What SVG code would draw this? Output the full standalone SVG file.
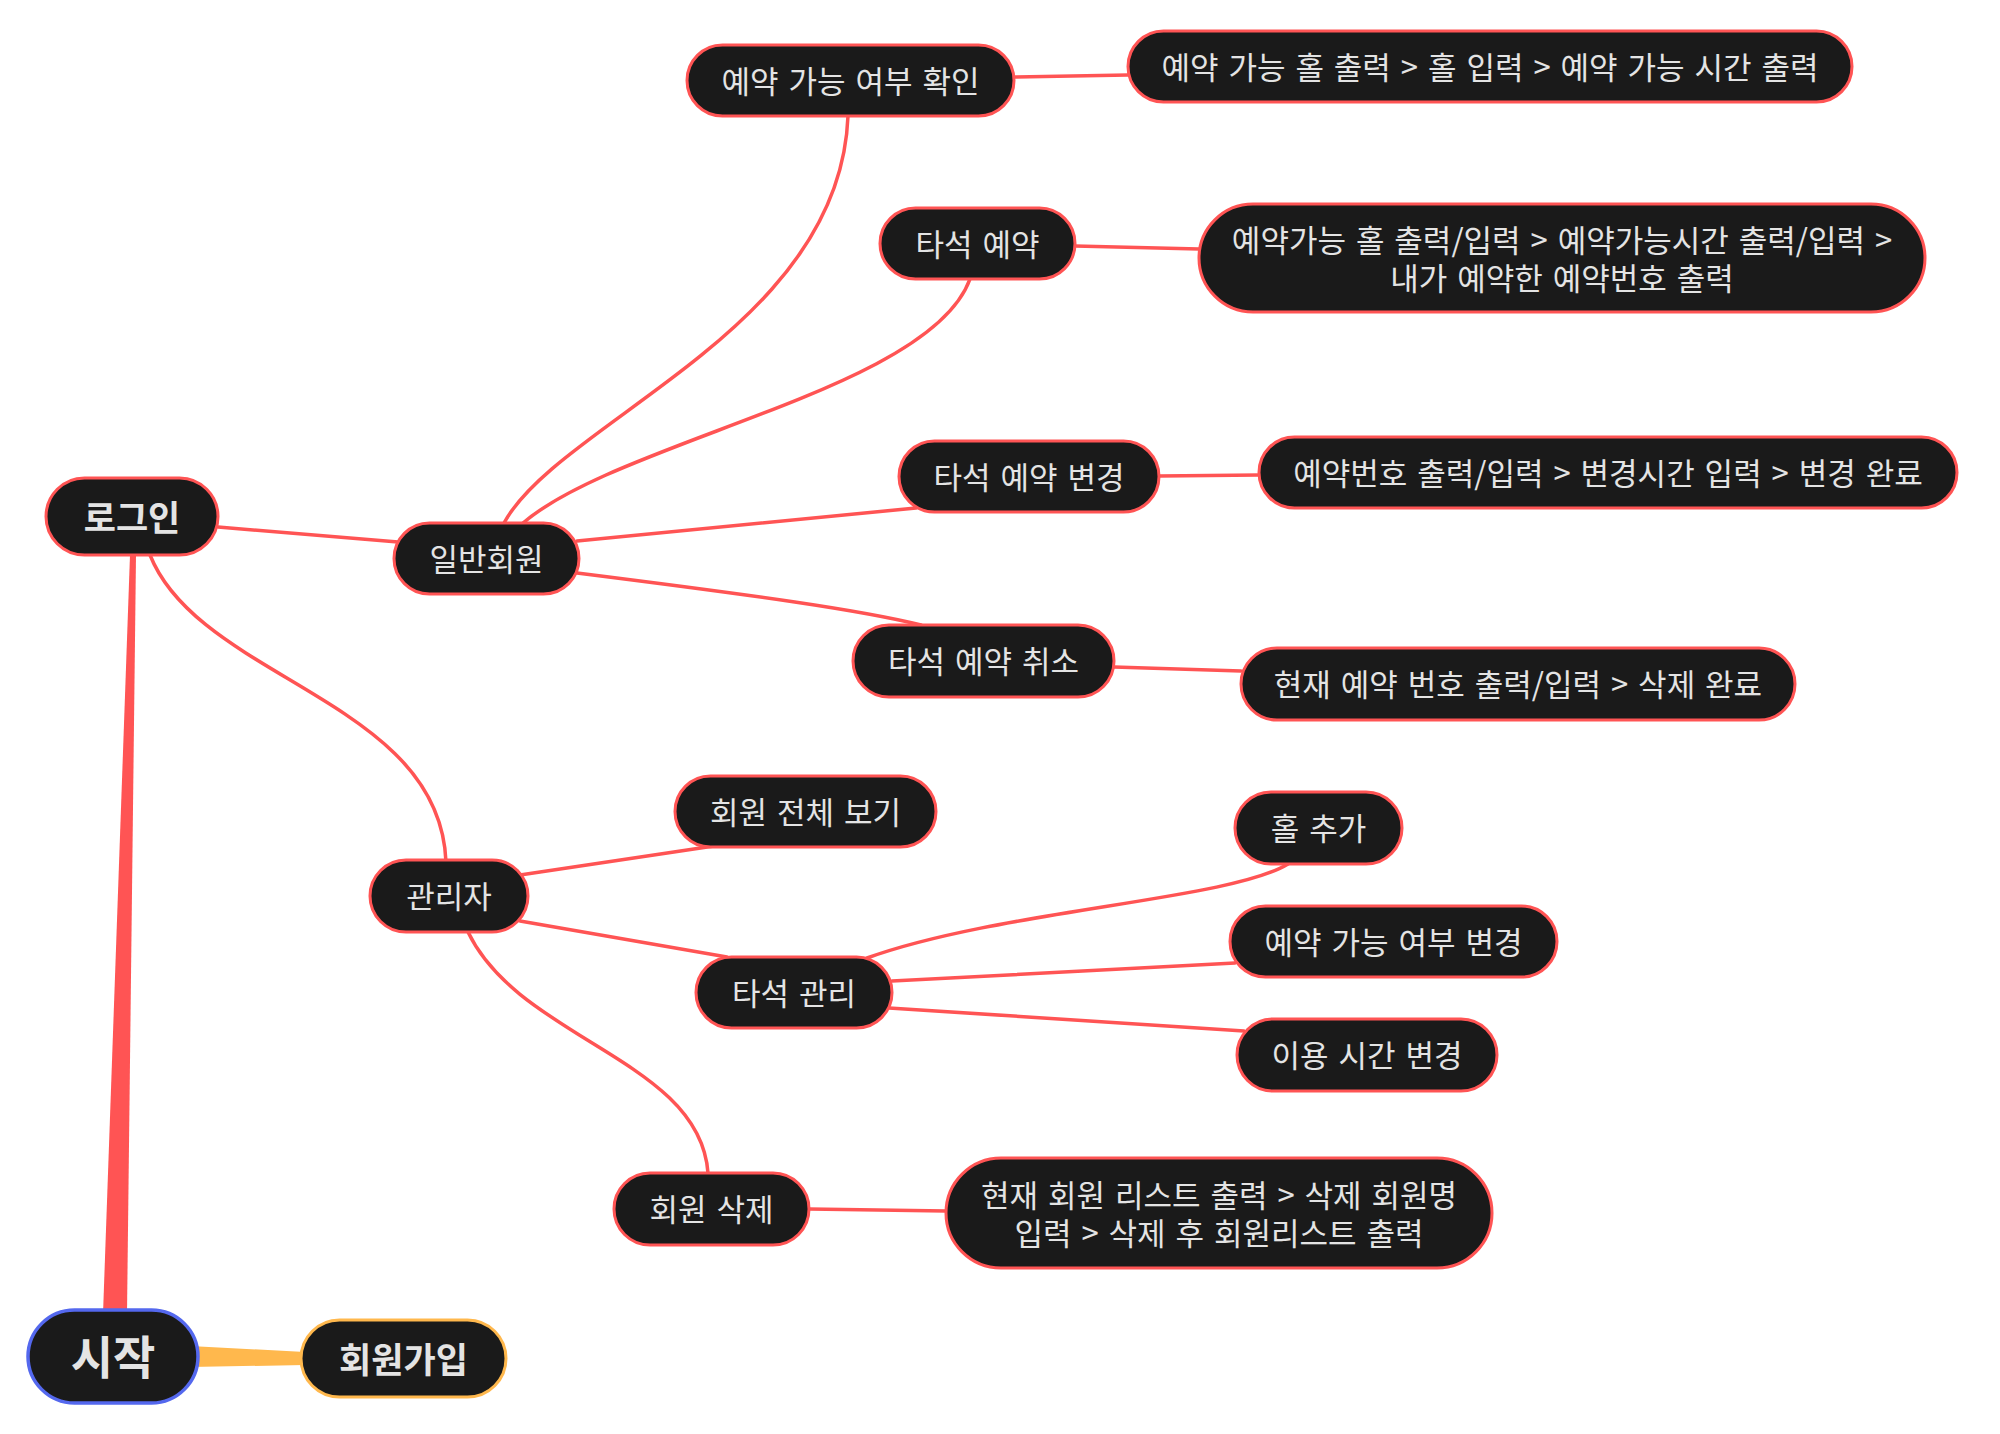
<svg xmlns="http://www.w3.org/2000/svg" width="2000" height="1434" viewBox="0 0 2000 1434">
<style>
.n rect{fill:#1a1a1a;stroke:#ff5454;stroke-width:3}
.n text{fill:#e4e4e4;font-family:"Noto Sans CJK KR","Noto Sans",sans-serif;font-size:31px;word-spacing:3px;text-anchor:middle;dominant-baseline:central}
.b text{font-weight:bold;word-spacing:0}
.c path{fill:none;stroke:#ff5454;stroke-width:3.5;stroke-linecap:round}
</style>
<rect width="2000" height="1434" fill="#ffffff"/>
<g id="connectors" class="c">
<polygon points="130,555 136,555 127,1314 103,1314" fill="#ff5454"/>
<polygon points="190,1346 190,1367 305,1365 305,1352" fill="#ffb84d"/>
<path d="M218,527 L398,542"/>
<path d="M150,555 C200,680 440,700 446,862"/>
<path d="M504,523 C560,420 840,330 848,116"/>
<path d="M523,523 C620,440 930,390 970,279"/>
<path d="M577,541 L916,508"/>
<path d="M577,573 C760,596 860,610 921,625"/>
<path d="M1014,77 L1128,75"/>
<path d="M1075,246 L1199,249"/>
<path d="M1159,476 L1259,475"/>
<path d="M1114,667 L1241,671"/>
<path d="M520,875 L714,846"/>
<path d="M520,921 L727,957"/>
<path d="M468,932 C520,1040 700,1060 708,1173"/>
<path d="M867,958 C1000,910 1230,900 1288,864"/>
<path d="M892,981 L1235,963"/>
<path d="M889,1008 L1244,1031"/>
<path d="M809,1209 L946,1211"/>
</g>
<g id="n-start" class="n b"><rect x="28" y="1310" width="170" height="93" rx="46.5" style="stroke:#5468ee;stroke-width:3.5"/><text x="113" y="1354" style="font-size:46px">시작</text></g>
<g id="n-signup" class="n b"><rect x="301" y="1320" width="205" height="77" rx="38.5" style="stroke:#ffb84d"/><text x="403.5" y="1357" style="font-size:35px">회원가입</text></g>
<g id="n-login" class="n b"><rect x="46" y="478" width="172" height="77" rx="38.5"/><text x="132" y="515" style="font-size:35px">로그인</text></g>
<g id="n-member" class="n"><rect x="394" y="523" width="185" height="71" rx="35.5"/><text x="486.5" y="557">일반회원</text></g>
<g id="n-check" class="n"><rect x="687" y="45" width="327" height="71" rx="35.5"/><text x="850.5" y="79">예약 가능 여부 확인</text></g>
<g id="n-check-d" class="n"><rect x="1128" y="31" width="724" height="71" rx="35.5"/><text x="1490" y="65">예약 가능 홀 출력 &gt; 홀 입력 &gt; 예약 가능 시간 출력</text></g>
<g id="n-reserve" class="n"><rect x="880" y="208" width="195" height="71" rx="35.5"/><text x="977.5" y="242">타석 예약</text></g>
<g id="n-reserve-d" class="n"><rect x="1199" y="204" width="726" height="108" rx="54"/><text x="1562" y="238">예약가능 홀 출력/입력 &gt; 예약가능시간 출력/입력 &gt;</text><text x="1562" y="276">내가 예약한 예약번호 출력</text></g>
<g id="n-change" class="n"><rect x="899" y="441" width="260" height="71" rx="35.5"/><text x="1029" y="475">타석 예약 변경</text></g>
<g id="n-change-d" class="n"><rect x="1259" y="437" width="698" height="71" rx="35.5"/><text x="1608" y="471">예약번호 출력/입력 &gt; 변경시간 입력 &gt; 변경 완료</text></g>
<g id="n-cancel" class="n"><rect x="853" y="625" width="261" height="72" rx="36"/><text x="983.5" y="659.5">타석 예약 취소</text></g>
<g id="n-cancel-d" class="n"><rect x="1241" y="648" width="554" height="72" rx="36"/><text x="1518" y="682.5">현재 예약 번호 출력/입력 &gt; 삭제 완료</text></g>
<g id="n-admin" class="n"><rect x="370" y="860" width="158" height="72" rx="36"/><text x="449" y="894.5">관리자</text></g>
<g id="n-viewall" class="n"><rect x="675" y="776" width="261" height="71" rx="35.5"/><text x="805.5" y="810">회원 전체 보기</text></g>
<g id="n-seatmgmt" class="n"><rect x="696" y="957" width="196" height="71" rx="35.5"/><text x="794" y="991">타석 관리</text></g>
<g id="n-addhall" class="n"><rect x="1235" y="792" width="167" height="72" rx="36"/><text x="1318.5" y="826.5">홀 추가</text></g>
<g id="n-avail" class="n"><rect x="1230" y="906" width="327" height="71" rx="35.5"/><text x="1393.5" y="940">예약 가능 여부 변경</text></g>
<g id="n-time" class="n"><rect x="1237" y="1019" width="260" height="72" rx="36"/><text x="1367" y="1053.5">이용 시간 변경</text></g>
<g id="n-delete" class="n"><rect x="614" y="1173" width="195" height="72" rx="36"/><text x="711.5" y="1207.5">회원 삭제</text></g>
<g id="n-delete-d" class="n"><rect x="946" y="1158" width="546" height="110" rx="55"/><text x="1219" y="1193">현재 회원 리스트 출력 &gt; 삭제 회원명</text><text x="1219" y="1231">입력 &gt; 삭제 후 회원리스트 출력</text></g>
</svg>
